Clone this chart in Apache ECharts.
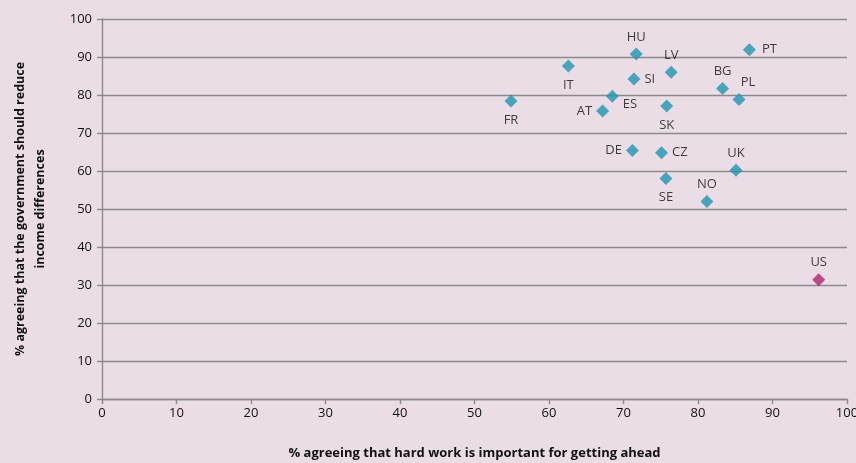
<!DOCTYPE html>
<html>
<head>
<meta charset="utf-8">
<script src="https://cdn.jsdelivr.net/npm/echarts@6/dist/echarts.min.js"></script>
<style>
  html, body { margin: 0; padding: 0; background: #EADDE6; overflow: hidden; }
  #chart { width: 856px; height: 463px; }
</style>
</head>
<body>
<div id="chart"></div>
<script>
// Country codes, with % agreeing hard work matters (x) and % for reducing income differences (y)
const countries = ['FR','IT','HU','SI','LV','PT','BG','PL','ES','AT','SK','DE','CZ','UK','SE','NO','US'];
const hardWork   = [54.9, 62.6, 71.7, 71.4, 76.4, 86.9, 83.3, 85.5, 68.5, 67.2, 75.8, 71.2, 75.1, 85.1, 75.7, 81.2, 96.2];
const reduceDiff = [78.4, 87.6, 90.8, 84.2, 86.0, 91.9, 81.7, 78.8, 79.7, 75.8, 77.1, 65.4, 64.8, 60.2, 58.0, 52.0, 31.4];
const highlighted = ['US'];

// Where each country label sits relative to its marker
const labelPlacement = {
  FR: ['bottom', [0, 2]], IT: ['bottom', [0, 2]], HU: ['top', [0, 0]], SI: ['right', [0, 0]],
  LV: ['top', [0, 0]], PT: ['right', [2, 0]], BG: ['top', [0, 0]], PL: ['top', [9, 0]],
  ES: ['right', [0, 8]], AT: ['left', [0, 0]], SK: ['bottom', [0, 2]], DE: ['left', [0, 0]],
  CZ: ['right', [0, 0]], UK: ['top', [0, 0]], SE: ['bottom', [0, 2]], NO: ['top', [0, 0]],
  US: ['top', [0, 0]]
};

const teal = '#1F95B1';
const magenta = '#B2246E';
const axisGray = '#8A8A8A';
const fontFamily = "'Open Sans', 'Noto Sans', sans-serif";

const points = countries.map((c, i) => {
  const [pos, offset] = labelPlacement[c];
  return {
    name: c,
    value: [hardWork[i], reduceDiff[i]],
    itemStyle: { color: highlighted.includes(c) ? magenta : teal },
    label: { position: pos, offset: offset }
  };
});

const chart = echarts.init(document.getElementById('chart'), null, { renderer: 'canvas', width: 856, height: 463 });
chart.setOption({
  backgroundColor: '#EADDE6',
  animation: false,
  grid: { left: 102, right: 9, top: 19, bottom: 64, containLabel: false, outerBoundsMode: 'none' },
  xAxis: {
    type: 'value', min: 0, max: 100, interval: 10,
    name: '% agreeing that hard work is important for getting ahead',
    nameLocation: 'middle', nameGap: 48,
    nameTextStyle: { fontFamily, fontSize: 13, fontWeight: 'bold', color: '#111' },
    axisLine: { show: true, lineStyle: { color: axisGray, width: 1.4 } },
    axisTick: { show: true, length: 5, lineStyle: { color: axisGray, width: 1.4 } },
    axisLabel: { fontFamily, fontSize: 13, color: '#111', margin: 8 },
    splitLine: { show: false }
  },
  yAxis: {
    type: 'value', min: 0, max: 100, interval: 10,
    name: '% agreeing that the government should reduce\nincome differences',
    nameLocation: 'middle', nameGap: 52,
    nameTextStyle: { fontFamily, fontSize: 12.5, fontWeight: 'bold', color: '#111', lineHeight: 20 },
    axisLine: { show: true, lineStyle: { color: axisGray, width: 1.4 } },
    axisTick: { show: true, length: 5, lineStyle: { color: axisGray, width: 1.4 } },
    axisLabel: { fontFamily, fontSize: 13, color: '#111', margin: 10 },
    splitLine: { show: true, lineStyle: { color: axisGray, width: 1.4 } }
  },
  series: [{
    type: 'scatter',
    symbol: 'diamond',
    symbolSize: 13,
    data: points,
    label: {
      show: true,
      formatter: '{b}',
      fontFamily, fontSize: 13, color: '#111', distance: 4
    }
  }]
});
</script>
</body>
</html>
